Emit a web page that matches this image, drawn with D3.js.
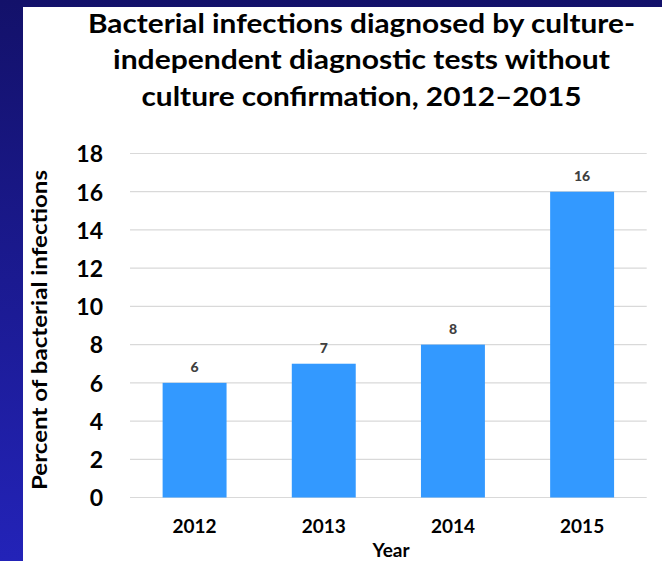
<!DOCTYPE html>
<html>
<head>
<meta charset="utf-8">
<script src="https://cdn.jsdelivr.net/npm/d3@7"></script>
<style>
html,body{margin:0;padding:0;overflow:hidden;}
svg{display:block;}
</style>
</head>
<body>
<svg id="chart" width="662" height="561"></svg>
<script>
const years = ["2012", "2013", "2014", "2015"];
const percents = [6, 7, 8, 16];
const yTicks = [0, 2, 4, 6, 8, 10, 12, 14, 16, 18];
const titleLines = ["Bacterial infections diagnosed by culture-", "independent diagnostic tests without", "culture confirmation, 2012\u20132015"];
const yTitle = "Percent of bacterial infections";
const xTitle = "Year";

const svg = d3.select("#chart");
const W = 662, H = 561;
const FONT = "Lato, 'Open Sans', sans-serif";

// background gradient
const defs = svg.append("defs");
const grad = defs.append("linearGradient").attr("id", "bg").attr("x1", 0).attr("y1", 0).attr("x2", 0).attr("y2", 1);
grad.append("stop").attr("offset", "0%").attr("stop-color", "#13116a");
grad.append("stop").attr("offset", "100%").attr("stop-color", "#2323b8");
svg.append("rect").attr("width", W).attr("height", H).attr("fill", "url(#bg)");
svg.append("rect").attr("x", 23).attr("y", 7).attr("width", W - 23).attr("height", H - 7).attr("fill", "#ffffff");

const margin = {left: 130, right: 15.3, top: 153.5, bottom: 63.5};
const x = d3.scaleBand().domain(years).range([margin.left, W - margin.right]).paddingInner(0.505).paddingOuter(0.2525);
const y = d3.scaleLinear().domain([0, 18]).range([H - margin.bottom, margin.top]);

// gridlines
svg.append("g").selectAll("line").data(yTicks).join("line")
  .attr("x1", margin.left).attr("x2", W - margin.right)
  .attr("y1", d => y(d)).attr("y2", d => y(d))
  .attr("stroke", "#d9d9d9").attr("stroke-width", 1.2);

// y axis labels
const yAxis = d3.axisLeft(y).tickValues(yTicks).tickSize(0).tickPadding(27);
const gy = svg.append("g").attr("transform", `translate(${margin.left},0)`).call(yAxis);
gy.select(".domain").remove();
gy.selectAll("text").attr("font-family", FONT).attr("font-weight", "bold").attr("font-size", 23).attr("fill", "#000").attr("dy", "0.36em");

// bars
svg.append("g").selectAll("rect").data(percents).join("rect")
  .attr("x", (d, i) => x(years[i]))
  .attr("y", d => y(d))
  .attr("width", x.bandwidth())
  .attr("height", d => y(0) - y(d))
  .attr("fill", "#3399ff");

// data labels
svg.append("g").selectAll("text").data(percents).join("text")
  .attr("x", (d, i) => x(years[i]) + x.bandwidth() / 2)
  .attr("y", d => y(d) - 11)
  .attr("text-anchor", "middle")
  .attr("font-family", FONT).attr("font-weight", "900").attr("font-size", 14)
  .attr("fill", "#404040")
  .text(d => d);

// x axis labels
const xAxis = d3.axisBottom(x).tickSize(0).tickPadding(22);
const gx = svg.append("g").attr("transform", `translate(0,${y(0)})`).call(xAxis);
gx.select(".domain").remove();
gx.selectAll("text").attr("font-family", FONT).attr("font-weight", "bold").attr("font-size", 19).attr("fill", "#000");

// x title
svg.append("text").attr("x", 391).attr("y", 557)
  .attr("text-anchor", "middle").attr("font-family", FONT).attr("font-weight", "bold").attr("font-size", 19)
  .attr("fill", "#000").text(xTitle);

// y title
svg.append("text").attr("transform", "translate(47,330) rotate(-90)")
  .attr("text-anchor", "middle").attr("font-family", FONT).attr("font-weight", "bold").attr("font-size", 21)
  .attr("textLength", 320).attr("lengthAdjust", "spacingAndGlyphs")
  .attr("fill", "#000").text(yTitle);

// title
const titleWidths = [547, 497, 440];
const titleBase = [32.5, 69, 105.5];
svg.append("g").selectAll("text").data(titleLines).join("text")
  .attr("x", 361.5).attr("y", (d, i) => titleBase[i])
  .attr("text-anchor", "middle").attr("font-family", FONT).attr("font-weight", "bold").attr("font-size", 27)
  .attr("textLength", (d, i) => titleWidths[i]).attr("lengthAdjust", "spacingAndGlyphs")
  .attr("fill", "#000").text(d => d);
</script>
</body>
</html>
